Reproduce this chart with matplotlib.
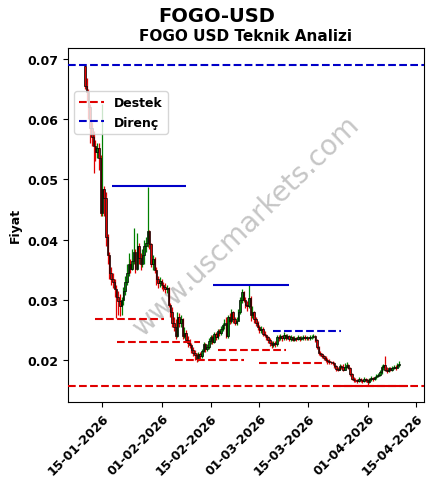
import matplotlib
matplotlib.use("Agg")
import matplotlib.pyplot as plt
import matplotlib.dates as mdates
from matplotlib.lines import Line2D
import numpy as np
import datetime as dt

plt.rcParams['font.family'] = ['DejaVu Sans']
plt.rcParams['font.weight'] = 'bold'
plt.rcParams['axes.labelweight'] = 'bold'
plt.rcParams['axes.titleweight'] = 'bold'

title = "FOGO-USD"
subtitle = "FOGO USD Teknik Analizi"
ylabel = "Fiyat"
watermark = "www.uscmarkets.com"
legend_labels = ["Destek", "Direnç"]

start = dt.datetime(2026, 1, 10)
step_hours = 12
first_open = 0.0688

closes = [
    .0655, .0645, .0620, .0585, .0570, .0555, .0545, .0552, .0535, .0445,
    .0485, .0470, .0405, .0375, .0345, .0335, .0330, .0318, .0305, .0298,
    .0290, .0300, .0315, .0330, .0345, .0360, .0352, .0365, .0380, .0352,
    .0390, .0370, .0360, .0375, .0390, .0395, .0414, .0392, .0360, .0368,
    .0350, .0335, .0328, .0332, .0325, .0322, .0318, .0320, .0292, .0280,
    .0262, .0255, .0240, .0272, .0262, .0268, .0240, .0245, .0233, .0228,
    .0225, .0216, .0212, .0208, .0201, .0210, .0206, .0215, .0226, .0218,
    .0222, .0232, .0238, .0230, .0244, .0238, .0248, .0245, .0252, .0258,
    .0262, .0240, .0272, .0265, .0280, .0268, .0262, .0265, .0280, .0300,
    .0313, .0300, .0292, .0290, .0303, .0275, .0280, .0268, .0262, .0255,
    .0250, .0252, .0244, .0241, .0238, .0233, .0228, .0225, .0229, .0226,
    .0238, .0236, .0240, .0236, .0241, .0237, .0240, .0235, .0238, .0234,
    .0237, .0235, .0238, .0235, .0237, .0239, .0236, .0238, .0236, .0238,
    .0239, .0240, .0233, .0222, .0212, .0210, .0207, .0204, .0200, .0198,
    .0197, .0196, .0195, .0190, .0185, .0184, .0190, .0188, .0184, .0189,
    .0192, .0187, .0176, .0169, .0167, .0166, .0165, .0168, .0166, .0165,
    .0168, .0166, .0164, .0168, .0170, .0168, .0172, .0174, .0175, .0180,
    .0188, .0191, .0184, .0182, .0186, .0184, .0187, .0189, .0187, .0192,
    .0194,
]
highs = [
    .0692, .0668, .0650, .0625, .0595, .0580, .0565, .0560, .0560, .0540,
    .0625, .0490, .0480, .0410, .0380, .0355, .0345, .0335, .0325, .0315,
    .0310, .0305, .0322, .0340, .0360, .0377, .0368, .0385, .0419, .0385,
    .0411, .0395, .0378, .0385, .0400, .0405, .0488, .0416, .0395, .0375,
    .0372, .0355, .0340, .0338, .0335, .0330, .0328, .0325, .0322, .0295,
    .0288, .0272, .0268, .0280, .0278, .0274, .0270, .0255, .0250, .0240,
    .0235, .0228, .0222, .0216, .0212, .0213, .0214, .0218, .0230, .0229,
    .0226, .0236, .0242, .0241, .0247, .0246, .0252, .0252, .0256, .0262,
    .0268, .0272, .0275, .0278, .0285, .0282, .0272, .0272, .0285, .0305,
    .0318, .0315, .0305, .0298, .0324, .0306, .0290, .0282, .0272, .0264,
    .0258, .0256, .0254, .0248, .0244, .0240, .0236, .0231, .0232, .0231,
    .0242, .0241, .0244, .0242, .0246, .0243, .0244, .0242, .0241, .0240,
    .0240, .0239, .0241, .0240, .0240, .0242, .0241, .0240, .0239, .0241,
    .0242, .0243, .0241, .0235, .0224, .0215, .0212, .0209, .0206, .0203,
    .0201, .0199, .0198, .0196, .0192, .0189, .0193, .0192, .0193, .0195,
    .0196, .0194, .0189, .0178, .0172, .0170, .0169, .0171, .0170, .0169,
    .0171, .0170, .0168, .0170, .0173, .0172, .0174, .0177, .0178, .0183,
    .0191, .0193, .0207, .0188, .0189, .0188, .0190, .0192, .0191, .0195,
    .0198,
]
lows = [
    .0650, .0630, .0600, .0560, .0555, .0510, .0530, .0535, .0515, .0440,
    .0440, .0440, .0390, .0360, .0335, .0325, .0320, .0305, .0270, .0275,
    .0273, .0275, .0292, .0308, .0325, .0340, .0345, .0350, .0360, .0345,
    .0350, .0360, .0350, .0355, .0360, .0380, .0388, .0385, .0355, .0350,
    .0345, .0325, .0320, .0322, .0318, .0315, .0312, .0312, .0288, .0272,
    .0255, .0248, .0235, .0238, .0255, .0255, .0235, .0236, .0230, .0222,
    .0220, .0212, .0206, .0200, .0197, .0199, .0202, .0204, .0213, .0214,
    .0215, .0219, .0226, .0226, .0228, .0233, .0235, .0240, .0242, .0248,
    .0252, .0236, .0236, .0260, .0262, .0262, .0258, .0258, .0264, .0276,
    .0295, .0296, .0286, .0282, .0286, .0265, .0270, .0262, .0256, .0250,
    .0245, .0245, .0240, .0238, .0233, .0228, .0224, .0220, .0222, .0221,
    .0224, .0231, .0233, .0232, .0233, .0233, .0235, .0231, .0232, .0231,
    .0232, .0232, .0233, .0232, .0233, .0234, .0233, .0234, .0233, .0234,
    .0235, .0236, .0230, .0218, .0208, .0206, .0203, .0200, .0197, .0194,
    .0194, .0193, .0191, .0186, .0182, .0181, .0183, .0185, .0182, .0183,
    .0187, .0185, .0173, .0166, .0164, .0163, .0162, .0163, .0163, .0162,
    .0163, .0163, .0157, .0162, .0165, .0165, .0166, .0169, .0171, .0173,
    .0176, .0184, .0182, .0179, .0180, .0181, .0182, .0185, .0184, .0186,
    .0189,
]

# support (Destek) and resistance (Direnç) segments: level, start, end
support_levels = [0.0268, 0.0230, 0.0200, 0.0217, 0.0195]
support_starts = ["2026-01-12 22:00", "2026-01-19 05:00", "2026-02-04 22:00", "2026-02-17 00:00", "2026-02-28 22:00"]
support_ends = ["2026-02-01 17:00", "2026-02-12 02:00", "2026-02-24 12:00", "2026-03-08 12:00", "2026-03-19 12:00"]
resist_levels = [0.0490, 0.0324]
resist_starts = ["2026-01-17 19:00", "2026-02-15 19:00"]
resist_ends = ["2026-02-08 02:00", "2026-03-09 10:00"]
resist_dashed_level = 0.0248
resist_dashed_start = "2026-03-04 19:00"
resist_dashed_end = "2026-03-24 07:00"
main_support = 0.01575
main_support_start = "2026-03-22 07:00"
main_support_end = "2026-04-12 12:00"
main_resist = 0.0691

tick_dates = ["2026-01-15", "2026-02-01", "2026-02-15", "2026-03-01", "2026-03-15", "2026-04-01", "2026-04-15"]

RED = '#e00000'
GREEN = '#008000'
BLUE = '#0000c8'

fig = plt.figure(figsize=(4.33, 4.89), dpi=100)
ax = fig.add_axes([0.157, 0.176, 0.822, 0.724])

n = len(closes)
dates = [start + dt.timedelta(hours=step_hours * i) for i in range(n)]
xd = mdates.date2num(dates)
opens = [first_open] + closes[:-1]
cols = [GREEN if c >= o else RED for o, c in zip(opens, closes)]
bottoms = [min(o, c) for o, c in zip(opens, closes)]
heights = [max(abs(c - o), 0.00008) for o, c in zip(opens, closes)]

ax.vlines(xd, lows, highs, colors=cols, linewidth=0.9, zorder=2)
ax.bar(xd, heights, bottom=bottoms, width=0.42, color=cols, edgecolor='black',
       linewidth=0.5, zorder=3)

def dn(s):
    return mdates.date2num(dt.datetime.fromisoformat(s))

for lv, s, e in zip(support_levels, support_starts, support_ends):
    ax.hlines(lv, dn(s), dn(e), colors=RED, linestyles='--', linewidth=1.5, zorder=4)
for lv, s, e in zip(resist_levels, resist_starts, resist_ends):
    ax.hlines(lv, dn(s), dn(e), colors=BLUE, linestyles='-', linewidth=1.5, zorder=4)
ax.hlines(resist_dashed_level, dn(resist_dashed_start), dn(resist_dashed_end),
          colors=BLUE, linestyles='--', linewidth=1.5, zorder=4)
ax.hlines(main_support, dn(main_support_start), dn(main_support_end),
          colors=RED, linestyles='-', linewidth=1.5, zorder=4)
ax.axhline(main_support, color=RED, linestyle='--', linewidth=1.5, zorder=4)
ax.axhline(main_resist, color=BLUE, linestyle='--', linewidth=1.5, zorder=4)

ax.xaxis.set_major_locator(plt.FixedLocator([dn(d) for d in tick_dates]))
ax.xaxis.set_major_formatter(mdates.DateFormatter('%d-%m-%Y'))
ax.set_yticks([0.02, 0.03, 0.04, 0.05, 0.06, 0.07])
ax.tick_params(axis='both', labelsize=9)
plt.setp(ax.get_xticklabels(), rotation=45, ha='right', rotation_mode='anchor',
         fontweight='bold')
for lab in ax.get_yticklabels():
    lab.set_fontweight('bold')

ax.set_ylabel(ylabel, fontsize=9, fontweight='bold')
ax.set_title(subtitle, fontsize=11, fontweight='bold', pad=6)
fig.suptitle(title, fontsize=14, fontweight='bold', y=0.985)

ax.text(0.5, 0.5, watermark, transform=ax.transAxes, fontsize=20, color='gray',
        alpha=0.45, rotation=44, ha='center', va='center', fontweight='normal', zorder=1)

handles = [Line2D([0], [0], color=RED, linestyle='--', linewidth=1.5),
           Line2D([0], [0], color=BLUE, linestyle='--', linewidth=1.5)]
leg = ax.legend(handles, legend_labels, loc='upper left', bbox_to_anchor=(0.0, 0.895),
                fontsize=9, frameon=True)
for t in leg.get_texts():
    t.set_fontweight('bold')

fig.savefig('out.png', dpi=100)
